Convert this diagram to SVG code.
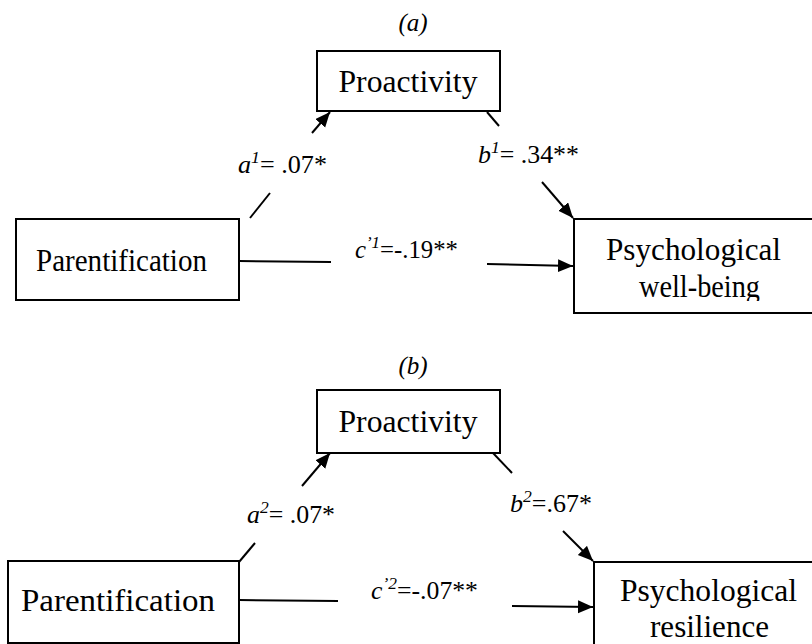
<svg xmlns="http://www.w3.org/2000/svg" width="812" height="644" viewBox="0 0 812 644">
<style>
text{font-family:"Liberation Serif","Times New Roman",serif;fill:#000}
.box{fill:#fff;stroke:#000;stroke-width:2}
.node{font-size:31px;text-anchor:middle}
.lbl{font-size:25px}
.it{font-style:italic}
.sup{font-size:17px;font-style:italic}
.ln{stroke:#000;stroke-width:2;fill:none}
.arr{stroke:#000;stroke-width:2;fill:none;marker-end:url(#ah)}
</style>
<defs>
<marker id="ah" markerUnits="userSpaceOnUse" markerWidth="16" markerHeight="14" refX="15" refY="6.5" orient="auto">
<path d="M0,0 L15,6.5 L0,13 z" fill="#000"/>
</marker>
<clipPath id="clipA"><rect x="574" y="219" width="240" height="82"/></clipPath>
</defs>

<text class="it" x="413" y="31" font-size="25" text-anchor="middle">(a)</text>
<text class="it" x="413" y="374" font-size="25" text-anchor="middle">(b)</text>

<g id="proactivity-a">
<rect class="box" x="317" y="51" width="183" height="60"/>
<text class="node" x="408" y="92" textLength="139" lengthAdjust="spacingAndGlyphs">Proactivity</text>
</g>
<g id="parentification-a">
<rect class="box" x="16" y="219" width="223" height="81"/>
<text class="node" x="121.5" y="271" font-size="29" textLength="171" lengthAdjust="spacingAndGlyphs">Parentification</text>
</g>
<g id="wellbeing-a">
<rect class="box" x="574" y="219" width="250" height="94"/>
<g clip-path="url(#clipA)">
<text class="node" x="693.5" y="260" textLength="175" lengthAdjust="spacingAndGlyphs">Psychological</text>
<text class="node" x="699.5" y="297" textLength="121" lengthAdjust="spacingAndGlyphs">well-being</text>
</g>
</g>

<g id="proactivity-b">
<rect class="box" x="317" y="390" width="183" height="63"/>
<text class="node" x="408" y="432" textLength="139" lengthAdjust="spacingAndGlyphs">Proactivity</text>
</g>
<g id="parentification-b">
<rect class="box" x="8" y="561" width="231" height="82"/>
<text class="node" x="118" y="611" font-size="33" textLength="194" lengthAdjust="spacingAndGlyphs">Parentification</text>
</g>
<g id="resilience-b">
<rect class="box" x="594" y="562" width="230" height="100"/>
<text class="node" x="708.5" y="601" textLength="177" lengthAdjust="spacingAndGlyphs">Psychological</text>
<text class="node" x="709.5" y="637" textLength="119" lengthAdjust="spacingAndGlyphs">resilience</text>
</g>

<g id="connectors">
<line class="ln" x1="250" y1="218" x2="270" y2="193"/>
<line class="arr" x1="312" y1="133" x2="330" y2="112"/>
<line class="ln" x1="487" y1="112" x2="499" y2="126"/>
<line class="arr" x1="542" y1="182" x2="573" y2="218"/>
<line class="ln" x1="239" y1="261" x2="331" y2="262"/>
<line class="arr" x1="487" y1="264" x2="573" y2="266"/>

<line class="ln" x1="239" y1="562" x2="255" y2="543"/>
<line class="arr" x1="302" y1="486" x2="330" y2="453"/>
<line class="ln" x1="493" y1="453" x2="512" y2="473"/>
<line class="arr" x1="563" y1="531" x2="593" y2="561"/>
<line class="ln" x1="239" y1="600" x2="338" y2="601"/>
<line class="arr" x1="512" y1="606" x2="593" y2="607"/>
</g>

<g id="labels">
<text class="lbl" x="238" y="173" textLength="89" lengthAdjust="spacingAndGlyphs"><tspan class="it">a</tspan><tspan class="sup" dy="-10">1</tspan><tspan dy="10">= .07*</tspan></text>
<text class="lbl" x="478" y="163" textLength="101" lengthAdjust="spacingAndGlyphs"><tspan class="it">b</tspan><tspan class="sup" dy="-10">1</tspan><tspan dy="10">= .34**</tspan></text>
<text class="lbl" x="355" y="258" textLength="103" lengthAdjust="spacingAndGlyphs"><tspan class="it">c</tspan><tspan class="sup" dy="-10">’1</tspan><tspan dy="10">=-.19**</tspan></text>
<text class="lbl" x="247" y="523" textLength="88" lengthAdjust="spacingAndGlyphs"><tspan class="it">a</tspan><tspan class="sup" dy="-10" font-style="normal">2</tspan><tspan dy="10">= .07*</tspan></text>
<text class="lbl" x="510" y="512" textLength="82" lengthAdjust="spacingAndGlyphs"><tspan class="it">b</tspan><tspan class="sup" dy="-10" font-style="normal">2</tspan><tspan dy="10">=.67*</tspan></text>
<text class="lbl" x="371" y="599" textLength="107" lengthAdjust="spacingAndGlyphs"><tspan class="it">c</tspan><tspan class="sup" dy="-10" font-style="normal">’2</tspan><tspan dy="10">=-.07**</tspan></text>
</g>
</svg>
